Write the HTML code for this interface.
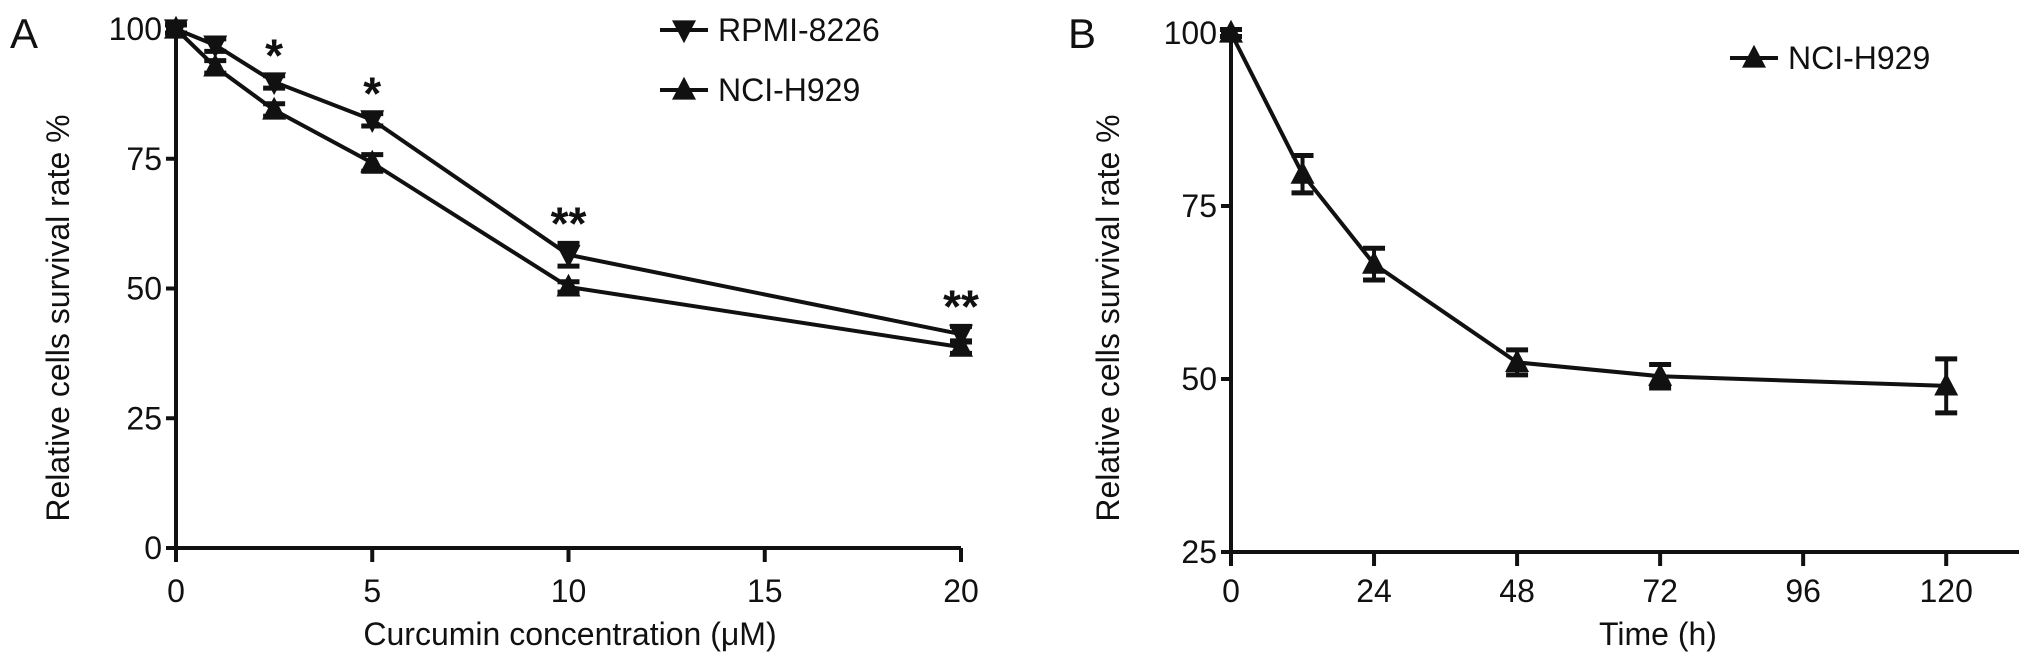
<!DOCTYPE html>
<html><head><meta charset="utf-8"><style>
html,body{margin:0;padding:0;background:#fff}
svg{display:block}
text{font-family:"Liberation Sans",Arial,sans-serif;fill:#111}
</style></head><body>
<svg id="chart" width="2032" height="663" viewBox="0 0 2032 663" xmlns="http://www.w3.org/2000/svg">
<g id="A"></g>
<g id="B"></g>
</svg>
<script>
// Panel A data
const concA = [0, 1, 2.5, 5, 10, 20];
const rpmiVals = [100, 96.9, 89.8, 82.5, 56.5, 41.2];
const rpmiErr = [0.8, 1.2, 1.2, 1.2, 2.2, 1.5];
const nciAVals = [100, 92.7, 84.4, 74.2, 50.3, 38.7];
const nciAErr = [0.8, 1.2, 1.2, 1.6, 1.0, 1.2];
const starsA = ['', '', '*', '*', '**', '**'];
const xTicksA = [0, 5, 10, 15, 20];
const yTicksA = [0, 25, 50, 75, 100];
// Panel B data
const timeB = [0, 12, 24, 48, 72, 120];
const nciBVals = [100, 79.6, 66.6, 52.4, 50.4, 49.0];
const nciBErr = [0.5, 2.7, 2.3, 1.8, 1.7, 3.9];
const xTicksB = [0, 24, 48, 72, 96, 120];
const yTicksB = [25, 50, 75, 100];

const NS = 'http://www.w3.org/2000/svg';
function mk(tag, attrs, parent, txt) {
  const e = document.createElementNS(NS, tag);
  for (const k in attrs) e.setAttribute(k, attrs[k]);
  if (txt !== undefined) e.textContent = txt;
  parent.appendChild(e);
  return e;
}
const xA = v => 176 + v * 39.25;
const yA = v => 548 - v * 5.19;
const xB = v => 1231 + v * 5.96;
const yB = v => 552 - (v - 25) * 6.92;

function tri(g, cx, cy, up, name) {
  const s = 12;
  const pts = up ? `${cx-s},${cy+s*0.8} ${cx+s},${cy+s*0.8} ${cx},${cy-s*1.1}`
                 : `${cx-s},${cy-s*0.8} ${cx+s},${cy-s*0.8} ${cx},${cy+s*1.1}`;
  const p = mk('polygon', {points: pts, fill: '#111'}, g);
  
  
}
function errbar(g, cx, y1, y2, name) {
  const eg = mk('g', {stroke: '#111', 'stroke-width': 4}, g);
  
  
  mk('line', {x1: cx, x2: cx, y1: y1, y2: y2}, eg);
  mk('line', {x1: cx-11, x2: cx+11, y1: y1, y2: y1, 'stroke-width': 5}, eg);
  mk('line', {x1: cx-11, x2: cx+11, y1: y2, y2: y2, 'stroke-width': 5}, eg);
}
function series(g, xs, vs, es, xf, yf, up, name) {
  const sg = mk('g', {}, g);
  
  
  const d = xs.map((x, i) => (i ? 'L' : 'M') + xf(x) + ',' + yf(vs[i])).join(' ');
  const l = mk('path', {d: d, fill: 'none', stroke: '#111', 'stroke-width': 4, 'stroke-linejoin': 'round'}, sg);
  
  
  xs.forEach((x, i) => {
    errbar(sg, xf(x), yf(vs[i] + es[i]), yf(vs[i] - es[i]), name + '-error-' + i);
    tri(sg, xf(x), yf(vs[i]), up, name + '-point-' + i);
  });
}
function axes(g, x0, x1, yTop, yBot, xt, yt, xf, yf, yTitle, yTitleX, yTitleY, xTitle, xTitleX) {
  const ag = mk('g', {stroke: '#111', 'stroke-width': 4}, g);
  
  
  mk('line', {x1: x0, x2: x0, y1: yTop, y2: yBot + 8}, ag);
  mk('line', {x1: x0 - 10, x2: x1, y1: yBot, y2: yBot}, ag);
  xt.forEach(v => {
    mk('line', {x1: xf(v), x2: xf(v), y1: yBot, y2: yBot + 14}, ag);
    const t = mk('text', {x: xf(v), y: 602, 'font-size': 32, 'text-anchor': 'middle'}, g, v);
    
    
  });
  yt.forEach(v => {
    mk('line', {x1: x0 - 10, x2: x0, y1: yf(v), y2: yf(v)}, ag);
    const t = mk('text', {x: x0 - 14, y: yf(v) + 11, 'font-size': 32, 'text-anchor': 'end'}, g, v);
    
    
  });
  const yt2 = mk('text', {x: 0, y: 0, 'font-size': 32, 'text-anchor': 'middle', transform: `translate(${yTitleX + 11},${yTitleY}) rotate(-90)`}, g, yTitle);
  
  
  const xt2 = mk('text', {x: xTitleX, y: 645, 'font-size': 32, 'text-anchor': 'middle'}, g, xTitle);
  
  
}
function legend(g, x, y, up, label, name) {
  const lg = mk('g', {}, g);
  
  
  mk('line', {x1: x, x2: x + 48, y1: y, y2: y, stroke: '#111', 'stroke-width': 4}, lg);
  tri(lg, x + 24, y, up, name + '-marker');
  mk('text', {x: x + 58, y: y + 11, 'font-size': 32}, lg, label);
}

const A = document.getElementById('A');
axes(A, 176, 961, 25, 548, xTicksA, yTicksA, xA, yA, 'Relative cells survival rate %', 58, 318, 'Curcumin concentration (\u03bcM)', 570);
series(A, concA, nciAVals, nciAErr, xA, yA, true, 'nci-h929-series');
series(A, concA, rpmiVals, rpmiErr, xA, yA, false, 'rpmi-8226-series');
concA.forEach((c, i) => {
  if (!starsA[i]) return;
  const t = mk('text', {x: xA(c), y: yA(rpmiVals[i] + rpmiErr[i]) - 4, 'font-size': 46, 'text-anchor': 'middle', 'font-weight': 'bold'}, A, starsA[i]);
  
  
});
legend(A, 660, 30, false, 'RPMI-8226', 'legend-rpmi-8226');
legend(A, 660, 90, true, 'NCI-H929', 'legend-nci-h929');
const la = mk('text', {x: 10, y: 48, 'font-size': 42}, A, 'A');



const B = document.getElementById('B');
axes(B, 1231, 2019, 28, 552, xTicksB, yTicksB, xB, yB, 'Relative cells survival rate %', 1108, 318, 'Time (h)', 1658);
series(B, timeB, nciBVals, nciBErr, xB, yB, true, 'nci-h929-time-series');
legend(B, 1730, 58, true, 'NCI-H929', 'legend-nci-h929-b');
const lb = mk('text', {x: 1068, y: 48, 'font-size': 42}, B, 'B');


</script>
</body></html>
